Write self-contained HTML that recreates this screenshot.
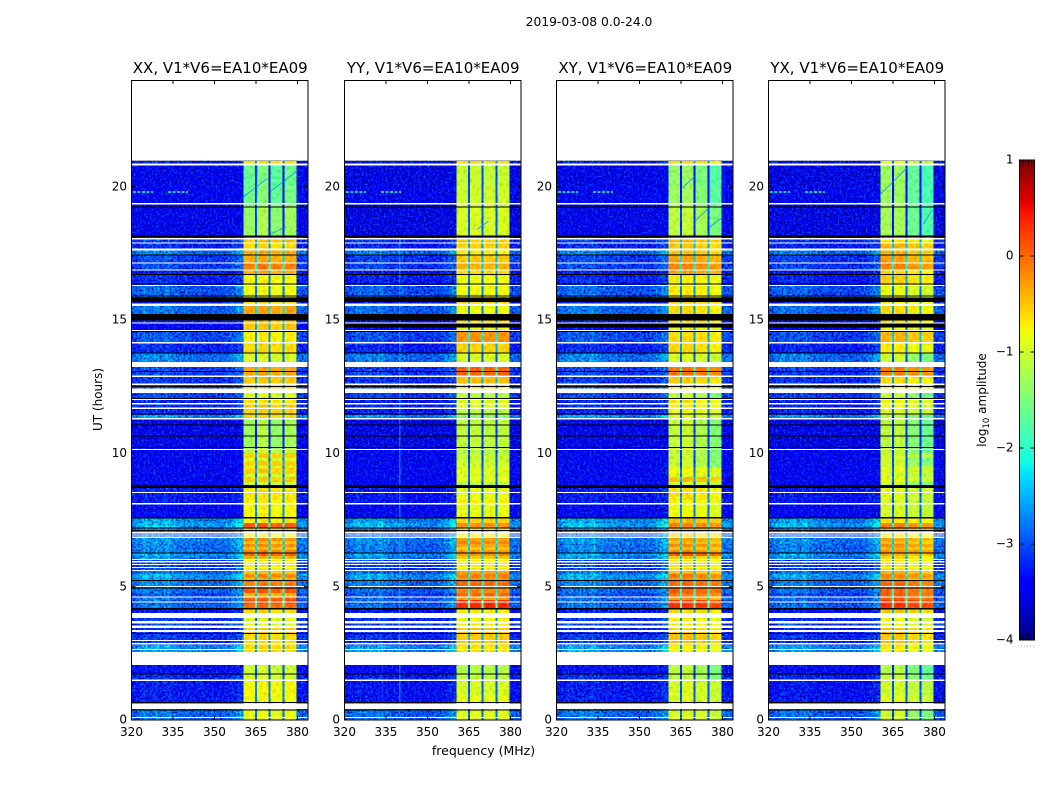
<!DOCTYPE html>
<html lang="en">
<head>
<meta charset="utf-8">
<title>2019-03-08 0.0-24.0</title>
<style>
html,body{margin:0;padding:0;background:#fff;}
body{width:1050px;height:800px;overflow:hidden;}
svg{display:block;}
text{font-family:"DejaVu Sans","Liberation Sans",sans-serif;fill:#000;}
</style>
</head>
<body>
<svg id="figure" xmlns="http://www.w3.org/2000/svg" width="1050" height="800" viewBox="0 0 1050 800">
  <defs>
    <filter id="speckle" x="0" y="0" width="1" height="1" color-interpolation-filters="sRGB">
      <feTurbulence type="fractalNoise" baseFrequency="0.5" numOctaves="1" seed="4" result="n"/>
      <feColorMatrix in="n" type="matrix" values="0 0 0 0 0.5 1 0 0 0 0 1 0 0 0 0 0 0 0 0 1" result="g"/>
      <feComposite in="SourceGraphic" in2="g" operator="arithmetic" k1="0" k2="1" k3="1.2" k4="-0.62"/>
    </filter>
    <filter id="mottle" x="0" y="0" width="1" height="1" color-interpolation-filters="sRGB">
      <feTurbulence type="fractalNoise" baseFrequency="0.3" numOctaves="1" seed="9" result="n"/>
      <feColorMatrix in="n" type="matrix" values="1 0 0 0 0 1 0 0 0 0 1 0 0 0 0 0 0 0 0 1" result="g"/>
      <feComposite in="SourceGraphic" in2="g" operator="arithmetic" k1="0" k2="1" k3="0.3" k4="-0.15"/>
    </filter>
  </defs>
  <rect width="1050" height="800" fill="#fff"/>
  <text x="589" y="26" font-size="12.3" text-anchor="middle">2019-03-08 0.0-24.0</text>
  <g id="panels"></g>
  <text x="483.5" y="755" font-size="12.5" text-anchor="middle">frequency (MHz)</text>
  <text transform="translate(102,399.5) rotate(-90)" font-size="12" text-anchor="middle">UT (hours)</text>
  <g id="colorbar"></g>
  <text transform="translate(986,400) rotate(-90)" font-size="12" text-anchor="middle">log<tspan font-size="8.5" dy="3">10</tspan><tspan dy="-3"> amplitude</tspan></text>
</svg>
<script>
/* ---- chart values ---- */
const panelTitles = ['XX, V1*V6=EA10*EA09','YY, V1*V6=EA10*EA09','XY, V1*V6=EA10*EA09','YX, V1*V6=EA10*EA09'];
const freqTicks = [320,335,350,365,380];
const utTicks = [0,5,10,15,20];
const colorTicks = [1,0,-1,-2,-3,-4];

/* top edge (UT hours) of each data row; the last row ends at 0 */
const rowTops = [20.97,20.82,20.07,19.32,18.12,17.86,17.60,17.41,17.11,16.88,16.70,16.32,15.87,15.53,15.23,14.90,14.60,14.15,13.77,13.24,12.89,12.57,12.27,12.04,11.86,11.67,11.44,11.26,10.13,10.02,9.83,9.72,9.53,9.46,9.23,9.12,8.93,8.70,8.25,8.10,7.62,7.39,7.20,7.05,6.87,6.72,6.60,6.49,6.38,6.27,6.15,6.04,5.63,5.48,5.33,5.22,4.99,4.77,4.61,4.50,4.35,4.16,3.83,3.60,3.45,3.30,3.23,2.81,2.55,2.06,1.73,1.46,0.94,0.64,0.41];

/* log10 amplitude away from the receiver band, per row */
const backgroundLevels = [-3.3,-3.5,-3.45,-3.5,-3.2,-3.25,-2.95,-3.15,-3.15,-3.3,-3.25,-3.05,-3.3,-3.0,-3.3,-3.4,-3.1,-3.25,-2.95,-3.15,-3.2,-3.15,-3.15,-3.25,-3.25,-3.25,-2.85,-3.5,-3.45,-3.4,-3.45,-3.4,-3.4,-3.4,-3.4,-3.4,-3.4,-3.3,-3.3,-3.4,-2.85,-2.75,-2.95,-3.05,-2.9,-2.9,-2.95,-2.95,-2.95,-2.8,-2.9,-3.15,-3.0,-2.8,-2.85,-2.95,-3.0,-3.1,-3.0,-3.05,-3.0,-3.3,-3.2,-3.15,-3.25,-3.2,-3.2,-2.85,-2.85,-3.35,-3.25,-3.3,-3.3,-3.3,-3.0];

/* log10 amplitude inside the 360-380 MHz band, per row and product */
const bandXX = [-0.6,-1.6,-1.55,-1.3,-0.5,-0.6,-0.35,-0.35,-0.1,-0.35,-0.75,-0.8,-0.55,-0.3,-0.5,-0.5,-0.7,-0.6,-0.95,-0.3,-0.5,-0.6,-0.9,-0.65,-0.5,-0.55,-0.6,-1.25,-1.05,-0.55,-0.9,-0.55,-0.9,-0.55,-0.95,-0.55,-1.0,-0.65,-0.7,-0.75,-0.7,0.1,-0.5,-0.7,-0.2,-0.45,-0.2,-0.45,-0.15,0.05,-0.4,-0.7,-0.5,-0.15,-0.4,-0.1,0.1,-0.4,0.05,0.15,0.0,-0.6,-0.9,-0.9,-0.55,-0.5,-0.6,-0.6,-0.6,-1.0,-0.95,-0.75,-0.8,-0.8,-0.85];
const bandYY = [-0.6,-1.05,-1.0,-0.95,-0.55,-0.55,-0.7,-0.5,-0.4,-0.6,-0.8,-0.8,-0.55,-0.8,-0.6,-0.8,-0.2,-0.55,-0.95,0.05,-0.45,-0.7,-1.1,-0.9,-0.9,-1.1,-1.4,-1.1,-1.2,-1.05,-1.05,-1.0,-1.0,-0.9,-0.95,-0.85,-1.1,-0.85,-0.7,-0.85,-0.55,-0.2,-0.6,-0.7,-0.3,-0.15,-0.3,-0.5,-0.25,-0.2,-0.5,-0.7,-0.3,-0.1,-0.25,0.0,-0.15,0.0,-0.3,0.3,0.35,-0.7,-0.75,-0.7,-0.5,-0.5,-0.5,-0.65,-0.65,-1.15,-1.1,-0.95,-0.85,-0.85,-0.9];
const bandXY = [-0.6,-1.4,-1.35,-1.15,-0.45,-0.5,-0.5,-0.3,-0.15,-0.3,-0.7,-0.7,-0.5,-0.6,-0.6,-0.8,-0.6,-0.6,-0.95,-0.05,-0.55,-0.7,-1.1,-0.7,-0.7,-0.8,-0.9,-1.1,-1.1,-1.1,-1.05,-1.1,-1.05,-0.8,-0.9,-0.45,-1.0,-0.65,-0.75,-0.8,-0.45,-0.15,-0.4,-0.6,-0.3,-0.45,-0.2,-0.45,-0.2,0.1,-0.5,-0.65,-0.45,-0.1,-0.25,0.0,0.05,-0.1,-0.3,0.2,0.3,-0.6,-0.75,-0.7,-0.6,-0.55,-0.45,-0.75,-0.75,-1.15,-1.15,-0.95,-0.95,-0.95,-0.95];
const bandYX = [-0.9,-1.35,-1.35,-1.3,-0.7,-0.4,-0.4,-0.3,-0.15,-0.6,-0.55,-0.85,-0.7,-0.6,-0.6,-0.8,-0.4,-0.7,-1.05,-0.1,-0.6,-0.8,-1.1,-0.8,-0.8,-0.9,-1.2,-1.15,-1.15,-1.0,-1.05,-1.05,-1.0,-0.9,-1.0,-0.85,-1.05,-0.9,-1.0,-0.95,-0.65,-0.1,-0.3,-0.7,-0.3,-0.45,-0.2,-0.4,-0.2,-0.35,-0.6,-0.65,-0.4,-0.15,-0.3,0.0,0.05,0.05,0.05,0.25,0.3,-0.5,-0.85,-0.8,-0.5,-0.45,-0.5,-0.7,-0.7,-1.2,-1.1,-1.0,-0.9,-0.9,-1.05];
const bandSeries = [bandXX,bandYY,bandXY,bandYX];

/* relative strength of 2 MHz wide channels from 320 to 360 MHz in active rows */
const backgroundProfile = [0.2,0.35,0.6,0.4,0.6,0.4,0.65,0.4,0.28,0.25,0.28,0.15,0.24,0.15,0.15,0.15,0.15,0.25,0.45,0.8];
const backgroundOffsets = [0,-0.05,0,-0.05];

/* band sub-divisions: start and end frequency, relative level, notch marker */
const bandEdges = [360.4,361,363.6,364.6,365.3,366,368.8,369.6,370.3,371,373.8,374.6,375.3,376,378.8,379.7];
const bandShape = [-0.08,0,-0.05,-2.0,-0.06,0,-0.05,-2.0,-0.06,0,-0.05,-2.0,-0.06,0,-0.06];
const subbandOfCell = [0,0,0,-1,1,1,1,-1,2,2,2,-1,3,3,3];
const subbandOffsetsXX = [-0.02,0.12,-0.1,0.02];
const subbandOffsetsYY = [0,0.02,0,0];
const subbandOffsetsXY = [0.05,0.08,-0.1,-0.35];
const subbandOffsetsYX = [0.05,0.05,-0.28,-0.45];
const subbandOffsets = [subbandOffsetsXX,subbandOffsetsYY,subbandOffsetsXY,subbandOffsetsYX];

/* flagged (white) and zero-amplitude (black) time ranges: top hour, bottom hour */
const whiteGaps = [[20.86,20.80],[19.39,19.34],[18.08,18.02],[17.90,17.86],[17.69,17.60],[17.15,17.11],[16.90,16.87],[16.32,16.27],[15.61,15.53],[14.91,14.86],[14.63,14.60],[14.18,14.11],[13.43,13.24],[12.91,12.87],[12.61,12.56],[12.44,12.26],[12.04,12.01],[11.88,11.84],[11.71,11.67],[11.33,11.26],[10.17,10.12],[8.55,8.51],[8.13,8.09],[7.05,7.00],[6.96,6.91],[6.88,6.83],[6.04,6.00],[5.96,5.91],[5.85,5.82],[5.74,5.70],[5.63,5.60],[5.03,4.99],[4.63,4.60],[4.45,4.41],[4.01,3.83],[3.71,3.61],[3.55,3.45],[3.38,3.30],[3.00,2.96],[2.89,2.83],[2.66,2.63],[2.55,2.06],[1.52,1.47],[0.61,0.41],[0.11,0.08]];
const blackGaps = [[19.25,19.21],[18.17,18.10],[17.46,17.42],[16.72,16.68],[16.37,16.33],[15.92,15.89],[15.85,15.67],[15.23,14.98],[14.58,14.55],[13.78,13.75],[13.09,13.06],[12.53,12.49],[12.07,12.04],[11.50,11.46],[11.09,11.06],[10.67,10.63],[10.24,10.21],[8.82,8.70],[7.62,7.56],[7.22,7.19],[7.13,7.08],[6.28,6.24],[5.25,5.22],[4.97,4.94],[4.20,4.15],[3.26,3.23],[1.74,1.71],[0.67,0.63],[0.40,0.36]];
const crossBlackGaps = [[14.90,14.71]];

/* narrow RFI: start freq, end freq, hour, level */
const rfiDashes = [[320.5,327.8,19.8,-2.0],[333.2,340.4,19.8,-1.9]];
/* diagonal band features per product: f1, h1, f2, h2 */
const streaksXX = [[360.3,19.6,369,20.3],[370,19.8,380,20.6],[370,18.2,376,18.5],[365,18.2,365.4,20.8]];
const streaksYY = [[368,18.4,372,18.7]];
const streaksXY = [[375.5,18.5,380,18.85],[365,19.9,370,20.4],[370,18.7,375,19.2]];
const streaksYX = [[360.3,19.7,370,20.7],[376,18.6,379,19.1]];
const streakSeries = [streaksXX,streaksYY,streaksXY,streaksYX];
/* vertical RFI channel in YY: frequency, top hour, bottom hour, level */
const verticalRfi = [[340,18.1,0.2,-2.4]];

/* ---- layout and scales ---- */
const NS = 'http://www.w3.org/2000/svg';
const panelLefts = [131.5,344.5,556.5,768.5];
const panelWidth = 176.5;
const panelTop = 80, panelBottom = 720;
const pxPerMHz = panelWidth / 63.8;
const xScale = (left, f) => left + (f - 320) * pxPerMHz;
const yScale = h => panelBottom - h * (panelBottom - panelTop) / 24;
const cbLeft = 1019.5, cbRight = 1034.5, cbTop = 160, cbBottom = 640;
const cbScale = v => cbBottom - (v + 4) * (cbBottom - cbTop) / 5;

function interp(stops, t){
  for (let i = 1; i < stops.length; i++){
    if (t <= stops[i][0]){
      const a = stops[i-1], b = stops[i];
      return a[1] + (b[1]-a[1]) * (t-a[0]) / (b[0]-a[0]);
    }
  }
  return stops[stops.length-1][1];
}
const jetR = [[0,0],[0.35,0],[0.66,1],[0.89,1],[1,0.5]];
const jetG = [[0,0],[0.125,0],[0.375,1],[0.64,1],[0.91,0],[1,0]];
const jetB = [[0,0.5],[0.11,1],[0.34,1],[0.65,0],[1,0]];
function jet(v){
  const t = Math.max(0, Math.min(1, (v + 4) / 5));
  const c = s => Math.round(255 * interp(s, t));
  return 'rgb(' + c(jetR) + ',' + c(jetG) + ',' + c(jetB) + ')';
}
function mk(parent, tag, attrs, text){
  const el = document.createElementNS(NS, tag);
  for (const k in attrs) el.setAttribute(k, attrs[k]);
  if (text !== undefined) el.textContent = text;
  parent.appendChild(el);
  return el;
}

const panelsRoot = document.getElementById('panels');
panelTitles.forEach((title, p) => {
  const left = panelLefts[p];
  const right = left + panelWidth;
  const g = mk(panelsRoot, 'g', {});
  
  

  const bgLayer = mk(g, 'g', {filter:'url(#speckle)', 'shape-rendering':'crispEdges'});
  
  
  const bandLayer = mk(g, 'g', {filter:'url(#mottle)', 'shape-rendering':'crispEdges'});
  
  

  rowTops.forEach((top, r) => {
    const bottom = r + 1 < rowTops.length ? rowTops[r+1] : 0;
    const y0 = yScale(top), y1 = yScale(bottom);
    const bg = backgroundLevels[r] + backgroundOffsets[p];
    const activity = Math.max(0, Math.min(1, backgroundLevels[r] + 3.5));
    backgroundProfile.forEach((shape, c) => {
      const f0 = 320 + c * 2, f1 = c === backgroundProfile.length - 1 ? 360.4 : f0 + 2;
      const cell = mk(bgLayer, 'rect', {x:xScale(left,f0), y:y0, width:xScale(left,f1)-xScale(left,f0), height:y1-y0, fill:jet(bg + shape * activity)});
      
      
    });
    const rightCell = mk(bgLayer, 'rect', {x:xScale(left,379.7), y:y0, width:right-xScale(left,379.7), height:y1-y0, fill:jet(bg + 0.25 * activity)});
    
    

    const level = bandSeries[p][r];
    bandShape.forEach((shape, c) => {
      const sub = subbandOfCell[c];
      const off = sub < 0 ? 0 : subbandOffsets[p][sub] * (level < -1 ? 1 : 0.3);
      const cell = mk(bandLayer, 'rect', {x:xScale(left,bandEdges[c]), y:y0, width:xScale(left,bandEdges[c+1])-xScale(left,bandEdges[c]), height:y1-y0, fill:jet(level + shape + off)});
      
      
    });
  });

  rfiDashes.forEach(d => {
    const dash = mk(g, 'line', {x1:xScale(left,d[0]), x2:xScale(left,d[1]), y1:yScale(d[2]), y2:yScale(d[2]), stroke:jet(d[3]), 'stroke-width':1.4, 'stroke-dasharray':'3 1.5'});
    
    
  });
  streakSeries[p].forEach(s => {
    const line = mk(g, 'line', {x1:xScale(left,s[0]), y1:yScale(s[1]), x2:xScale(left,s[2]), y2:yScale(s[3]), stroke:jet(-2.7), 'stroke-width':1, opacity:0.75});
    
    
  });
  if (p === 1) verticalRfi.forEach(v => {
    const line = mk(g, 'line', {x1:xScale(left,v[0]), x2:xScale(left,v[0]), y1:yScale(v[1]), y2:yScale(v[2]), stroke:jet(v[3]), 'stroke-width':1, opacity:0.8});
    
    
  });

  const gapLayer = mk(g, 'g', {'shape-rendering':'crispEdges'});
  
  
  const drawGap = (gap, color, name) => {
    const y0 = yScale(gap[0]);
    const h = Math.max(1, yScale(gap[1]) - y0);
    const rect = mk(gapLayer, 'rect', {x:left, y:y0, width:panelWidth, height:h, fill:color});
    
    
  };
  blackGaps.forEach(gap => drawGap(gap, '#000', 'zero-amplitude-row'));
  if (p > 0) crossBlackGaps.forEach(gap => drawGap(gap, '#000', 'zero-amplitude-row'));
  whiteGaps.forEach(gap => drawGap(gap, '#fff', 'flagged-row'));

  /* frame */
  const frame = mk(g, 'rect', {x:left, y:panelTop+0.5, width:panelWidth, height:panelBottom-panelTop-0.5, fill:'none', stroke:'#000', 'stroke-width':1});
  
  

  /* title */
  const tt = mk(g, 'text', {x:left+panelWidth/2+0.5, y:73, 'font-size':15, 'text-anchor':'middle'}, title);
  
  

  /* ticks and labels */
  freqTicks.forEach(f => {
    const x = xScale(left, f);
    const tb = mk(g, 'line', {x1:x, x2:x, y1:panelBottom, y2:panelBottom-4, stroke:'#000', 'stroke-width':1});
    
    
    const tu = mk(g, 'line', {x1:x, x2:x, y1:panelTop, y2:panelTop+4, stroke:'#000', 'stroke-width':1});
    
    
    const lb = mk(g, 'text', {x:x, y:736, 'font-size':12, 'text-anchor':'middle'}, String(f));
    
    
  });
  utTicks.forEach(h => {
    const y = yScale(h);
    const tl = mk(g, 'line', {x1:left, x2:left+4, y1:y, y2:y, stroke:'#000', 'stroke-width':1});
    
    
    const tr = mk(g, 'line', {x1:right, x2:right-4, y1:y, y2:y, stroke:'#000', 'stroke-width':1});
    
    
    const lb = mk(g, 'text', {x:left-4.5, y:y+3.6, 'font-size':12, 'text-anchor':'end'}, String(h));
    
    
  });
});

/* colorbar */
const cbRoot = document.getElementById('colorbar');
const cbSteps = 120;
for (let i = 0; i < cbSteps; i++){
  const v0 = -4 + 5 * i / cbSteps, v1 = -4 + 5 * (i + 1) / cbSteps;
  const seg = mk(cbRoot, 'rect', {x:cbLeft, y:cbScale(v1), width:cbRight-cbLeft, height:cbScale(v0)-cbScale(v1)+0.5, fill:jet((v0+v1)/2), 'shape-rendering':'crispEdges'});
  
  
}
const cbFrame = mk(cbRoot, 'rect', {x:cbLeft, y:cbTop, width:cbRight-cbLeft, height:cbBottom-cbTop, fill:'none', stroke:'#000', 'stroke-width':1});


colorTicks.forEach(v => {
  const y = cbScale(v);
  const a = mk(cbRoot, 'line', {x1:cbLeft, x2:cbLeft+4, y1:y, y2:y, stroke:'#000', 'stroke-width':1});
  
  
  const b = mk(cbRoot, 'line', {x1:cbRight, x2:cbRight-4, y1:y, y2:y, stroke:'#000', 'stroke-width':1});
  
  
  const label = (v < 0 ? '\u2212' + (-v) : String(v));
  const lb = mk(cbRoot, 'text', {x:1013.5, y:y+3.6, 'font-size':12, 'text-anchor':'end'}, label);
  
  
});
const cbMinorOffsets = [3,6,9,12];
cbMinorOffsets.forEach(dx => {
  const t = mk(cbRoot, 'line', {x1:cbLeft+dx, x2:cbLeft+dx, y1:cbTop, y2:cbTop+6, stroke:'#000', 'stroke-width':0.8});
  
  
  const u = mk(cbRoot, 'line', {x1:cbLeft+dx, x2:cbLeft+dx, y1:cbBottom, y2:cbBottom-6, stroke:'#000', 'stroke-width':0.8});
  
  
});
const stubDots = mk(cbRoot, 'line', {x1:1018, x2:1035, y1:646, y2:646, stroke:'#aaa', 'stroke-width':1, 'stroke-dasharray':'1 2'});


</script>
</body>
</html>
